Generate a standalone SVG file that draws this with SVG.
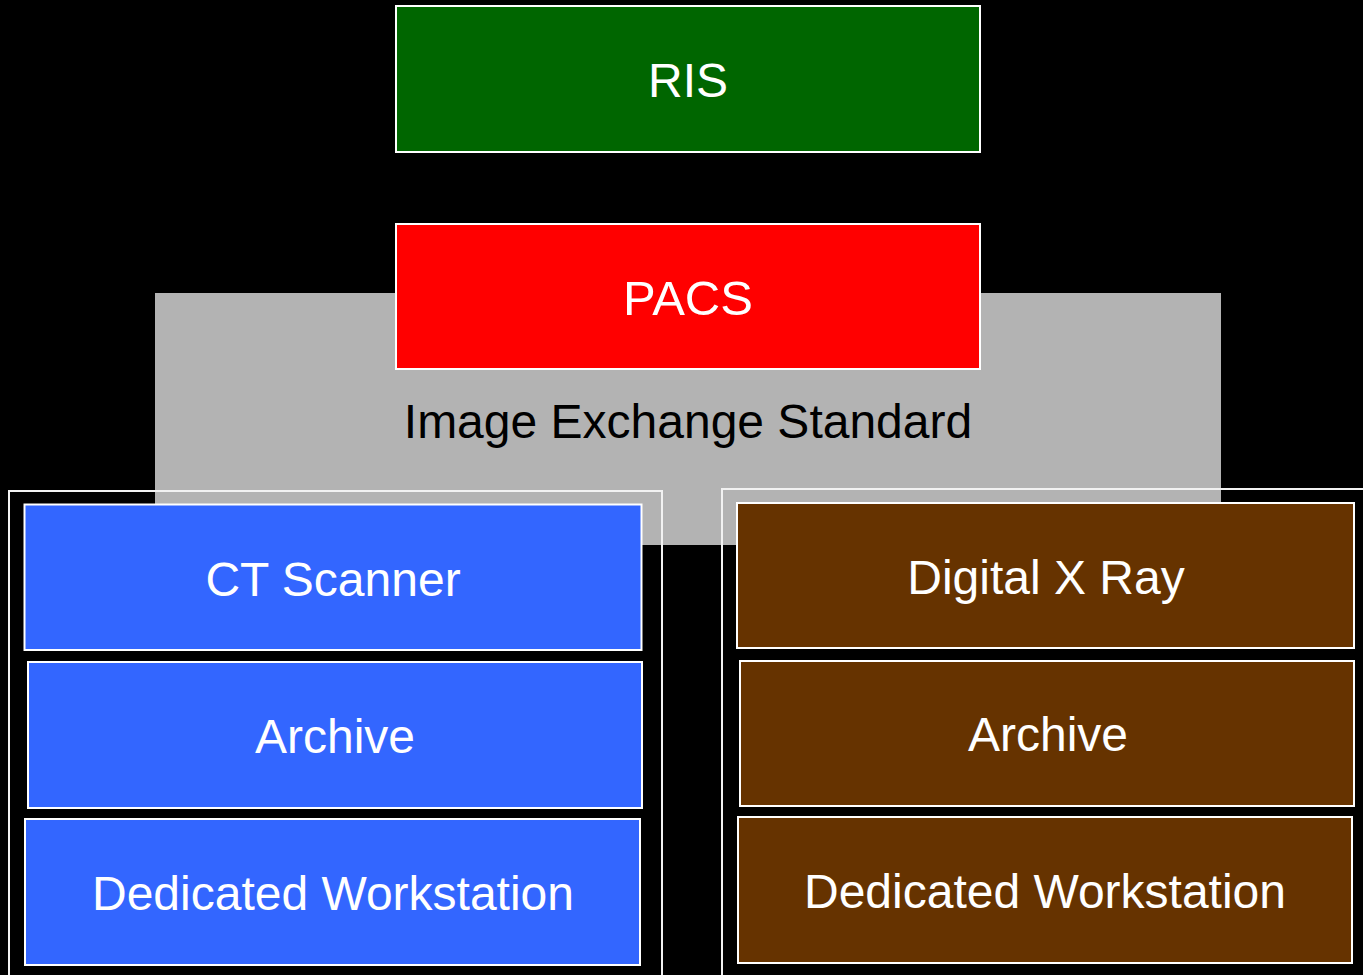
<svg xmlns="http://www.w3.org/2000/svg" width="1363" height="975" viewBox="0 0 1363 975">
  <style>
    .box { stroke: #ffffff; stroke-width: 2; }
    .frame { fill: none; stroke: #f2f2f2; stroke-width: 2; }
    .lbl { font-family: "Liberation Sans", Arial, sans-serif; font-size: 48px; fill: #ffffff; text-anchor: middle; }
    .dark { fill: #000000; }
    .ris { fill: #006600; }
    .pacs { fill: #ff0000; }
    .ct { fill: #3366ff; }
    .dx { fill: #663300; }
  </style>
  <rect width="1363" height="975" fill="#000000"/>

  <!-- shared exchange standard backdrop -->
  <g id="standard">
    <rect x="155" y="293" width="1066" height="252" fill="#b3b3b3"/>
    <text class="lbl dark" x="688" y="438">Image Exchange Standard</text>
  </g>

  <g id="ris">
    <rect class="box ris" x="396" y="6" width="584" height="146"/>
    <text class="lbl" x="688" y="97">RIS</text>
  </g>

  <g id="pacs">
    <rect class="box pacs" x="396" y="224" width="584" height="145"/>
    <text class="lbl" x="688" y="315" style="font-size:49px">PACS</text>
  </g>

  <!-- modality groups -->
  <g id="ct-group">
    <rect class="frame" x="9" y="491" width="653" height="500"/>
  </g>
  <g id="dx-group">
    <rect class="frame" x="722" y="489" width="660" height="500"/>
  </g>

  <g id="ct-scanner">
    <rect class="box ct" x="24.5" y="504.5" width="617" height="145.5"/>
    <text class="lbl" x="333" y="596">CT Scanner</text>
  </g>
  <g id="ct-archive">
    <rect class="box ct" x="28" y="662" width="614" height="146"/>
    <text class="lbl" x="335" y="753">Archive</text>
  </g>
  <g id="ct-workstation">
    <rect class="box ct" x="25" y="819" width="615" height="146"/>
    <text class="lbl" x="333" y="910">Dedicated Workstation</text>
  </g>

  <g id="dx-scanner">
    <rect class="box dx" x="737" y="503" width="617" height="145"/>
    <text class="lbl" x="1046" y="594">Digital X Ray</text>
  </g>
  <g id="dx-archive">
    <rect class="box dx" x="740" y="661" width="614" height="145"/>
    <text class="lbl" x="1048" y="751">Archive</text>
  </g>
  <g id="dx-workstation">
    <rect class="box dx" x="738" y="817" width="614" height="146"/>
    <text class="lbl" x="1045" y="908">Dedicated Workstation</text>
  </g>

  <g id="connectors"/>
</svg>
